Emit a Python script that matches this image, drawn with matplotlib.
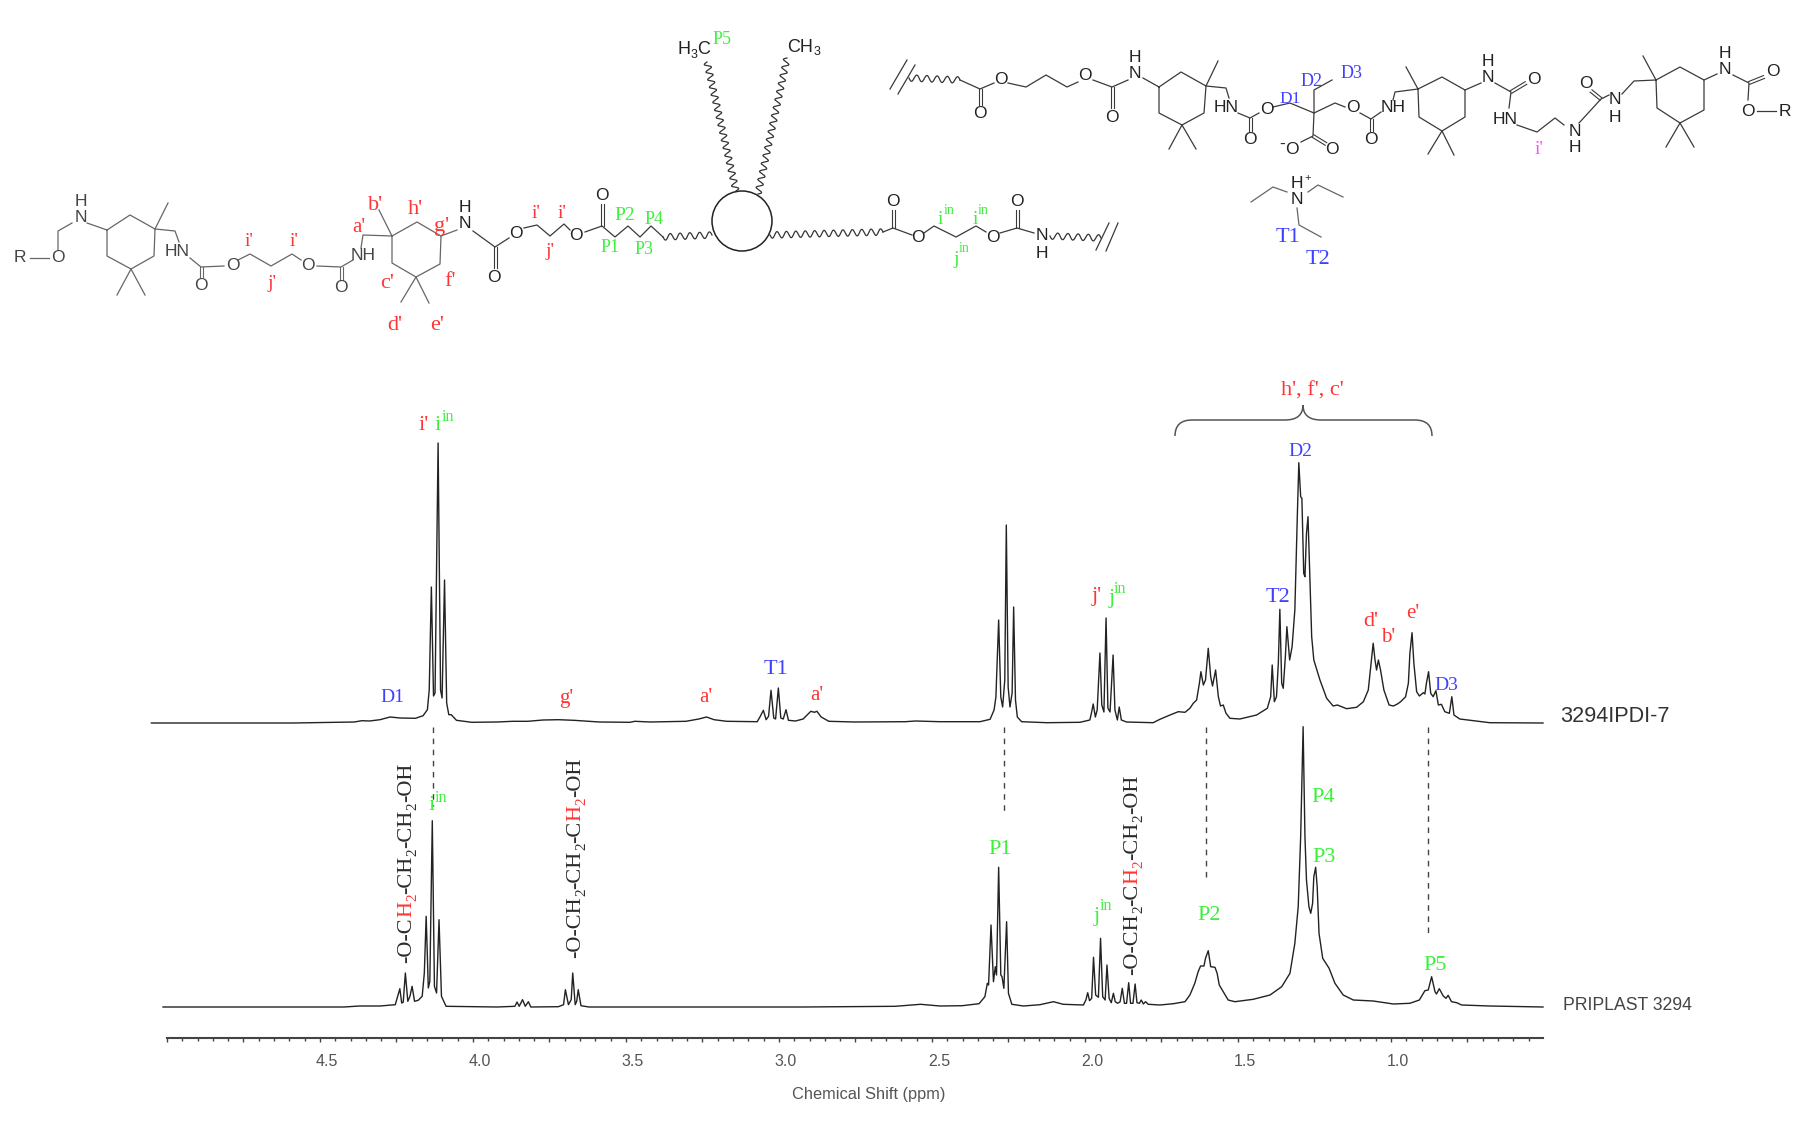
import numpy as np
import matplotlib
matplotlib.use('Agg')
import matplotlib.pyplot as plt
from matplotlib.path import Path
from matplotlib.patches import PathPatch, Circle
from matplotlib.transforms import ScaledTranslation

# 1H NMR traces: chemical shift (ppm) / height above own baseline
upper_ppm = [5.051, 4.588, 4.388, 4.363, 4.338, 4.304, 4.271, 4.238, 4.188, 4.163, 4.149, 4.143, 4.136, 4.129, 4.124, 4.114, 4.106, 4.101, 4.093, 4.086,
             4.079, 4.071, 4.054, 4.004, 3.921, 3.871, 3.821, 3.771, 3.721, 3.671, 3.587, 3.487, 3.471, 3.421, 3.304, 3.262, 3.237, 3.212, 3.171, 3.071,
             3.061, 3.051, 3.042, 3.034, 3.026, 3.017, 3.011, 3.002, 2.994, 2.986, 2.977, 2.969, 2.946, 2.921, 2.896, 2.884, 2.876, 2.862, 2.837, 2.754,
             2.587, 2.554, 2.474, 2.343, 2.310, 2.297, 2.291, 2.282, 2.275, 2.269, 2.262, 2.257, 2.251, 2.245, 2.238, 2.233, 2.227, 2.221, 2.207, 2.125,
             2.016, 1.984, 1.978, 1.973, 1.966, 1.960, 1.951, 1.945, 1.938, 1.931, 1.925, 1.918, 1.908, 1.902, 1.894, 1.888, 1.881, 1.864, 1.777, 1.755,
             1.722, 1.695, 1.673, 1.657, 1.646, 1.635, 1.626, 1.621, 1.613, 1.606, 1.597, 1.589, 1.583, 1.573, 1.564, 1.557, 1.548, 1.539, 1.526, 1.494,
             1.439, 1.404, 1.393, 1.388, 1.381, 1.374, 1.368, 1.363, 1.357, 1.352, 1.345, 1.340, 1.331, 1.323, 1.314, 1.306, 1.301, 1.295, 1.291, 1.285,
             1.281, 1.276, 1.271, 1.265, 1.259, 1.252, 1.232, 1.210, 1.189, 1.175, 1.145, 1.112, 1.090, 1.074, 1.067, 1.058, 1.052, 1.047, 1.041, 1.034,
             1.023, 1.006, 0.992, 0.979, 0.968, 0.952, 0.943, 0.938, 0.931, 0.925, 0.916, 0.907, 0.894, 0.889, 0.884, 0.877, 0.870, 0.862, 0.853, 0.845,
             0.835, 0.824, 0.809, 0.801, 0.794, 0.775, 0.731, 0.677, 0.503]
upper_h = [0, 0, 1, 2.3, 2, 3.3, 6, 5, 4.7, 7.3, 13.3, 33, 136, 27, 30, 280, 33, 25, 143, 20,
           8.3, 8.3, 2.7, 0.7, 1, 1.7, 1.7, 3, 3.3, 2.7, 1, 0.7, 1.7, 1, 1.7, 4, 6, 3.3, 1.7, 1.3,
           6.7, 12.7, 3.3, 6.7, 32.7, 5, 4, 35, 5, 4, 13.3, 2.7, 2, 4, 11.7, 10.7, 11.7, 6, 1.7, 1,
           1.3, 2, 1.3, 1.3, 3.7, 13, 26, 103, 26, 16, 43, 198, 36, 16, 30, 116, 23, 6, 1.3, 0.3,
           0.7, 3, 11, 19, 6, 13, 70, 18, 11, 105, 15, 11, 68, 13, 3, 16, 3, 1, 0.3, 3.7,
           8, 11.3, 10.7, 14.7, 19.7, 23, 39.7, 51.3, 38, 43, 74.7, 46.3, 37, 53, 26.3, 17, 18, 9.7, 4.7, 4,
           8, 14.7, 26.3, 58, 21.3, 26.3, 59.7, 113.7, 39.7, 34.7, 66.3, 96.3, 63, 76.3, 113, 206.3, 260.3, 226.3, 224.7, 149.7,
           146.3, 189.7, 206.3, 146.3, 86.3, 63, 43, 24.7, 17, 18, 14.3, 15.7, 21.3, 33, 53, 79.7, 63, 53, 63, 53,
           33, 18, 17, 19, 21.3, 26.3, 39.7, 69.7, 90.3, 59.7, 31.3, 27, 30.3, 29, 39.7, 51.3, 29.7, 26.3, 32.3, 18,
           18.7, 11.3, 9.7, 26.3, 8, 4, 2.3, 0.3, 0]

lower_ppm = [5.013, 4.421, 4.371, 4.304, 4.254, 4.246, 4.239, 4.233, 4.228, 4.221, 4.213, 4.206, 4.199, 4.191, 4.179, 4.166, 4.159, 4.153, 4.146, 4.141,
             4.133, 4.126, 4.119, 4.111, 4.103, 4.088, 3.921, 3.863, 3.856, 3.849, 3.838, 3.829, 3.819, 3.811, 3.721, 3.704, 3.698, 3.688, 3.679, 3.674,
             3.666, 3.661, 3.656, 3.647, 3.621, 2.921, 2.620, 2.537, 2.474, 2.401, 2.346, 2.327, 2.319, 2.315, 2.307, 2.299, 2.293, 2.289, 2.282, 2.275,
             2.271, 2.265, 2.256, 2.250, 2.239, 2.201, 2.147, 2.103, 2.071, 2.005, 1.997, 1.991, 1.985, 1.978, 1.972, 1.965, 1.956, 1.949, 1.942, 1.934,
             1.928, 1.921, 1.914, 1.907, 1.901, 1.893, 1.885, 1.878, 1.871, 1.864, 1.857, 1.851, 1.843, 1.836, 1.830, 1.822, 1.816, 1.809, 1.802, 1.793,
             1.755, 1.711, 1.673, 1.657, 1.641, 1.630, 1.622, 1.611, 1.606, 1.597, 1.589, 1.575, 1.568, 1.561, 1.548, 1.532, 1.510, 1.450, 1.395, 1.357,
             1.330, 1.314, 1.303, 1.295, 1.287, 1.281, 1.276, 1.268, 1.262, 1.256, 1.252, 1.246, 1.241, 1.235, 1.223, 1.202, 1.183, 1.156, 1.123, 1.058,
             0.992, 0.938, 0.907, 0.889, 0.878, 0.867, 0.856, 0.851, 0.842, 0.829, 0.820, 0.813, 0.802, 0.785, 0.769, 0.677, 0.503]
lower_h = [0, 0, 1, 1, 2.3, 10.7, 18.3, 4, 4.7, 34, 5.7, 10.7, 20.7, 5.7, 6.7, 10.7, 34, 90.7, 19, 25.7,
           186.3, 20.7, 14, 87.3, 10.7, 0.7, 0, 0.7, 5, 0.7, 7.3, 0.7, 5.3, 0, 0.3, 2.3, 17.3, 2.3, 7.3, 34,
           2.3, 5.7, 17.3, 1.3, 0, 0, 0.7, 2.7, 1, 1.3, 3.3, 10.3, 23.7, 22, 82, 25.3, 40.3, 32, 139.7, 32,
           30.3, 18.7, 85.3, 13.7, 2.7, 1, 2.3, 5.3, 2.7, 2, 7, 14.3, 6.3, 8.7, 49.7, 12, 9.7, 68.7, 10.3, 7,
           42, 8.7, 4.3, 13.7, 5.3, 3.7, 5.3, 18.7, 3.7, 3.7, 24.3, 3.7, 3.7, 23, 4.3, 3.7, 7, 3, 5.3, 2.7,
           2, 3.3, 5.3, 12, 23.7, 35.3, 41, 41, 48.7, 56.3, 40.3, 39.7, 33.7, 22, 15.3, 7, 5.3, 7.7, 12, 20.3,
           33.7, 63.7, 100.3, 170.3, 280.3, 170.3, 127, 100.3, 93.7, 103.7, 130.3, 139.7, 120.3, 73.7, 48.7, 38.7, 23.7, 12, 7, 6,
           3, 3.7, 7, 16.3, 17, 30.3, 15.3, 13, 18.3, 11, 8.7, 11.7, 5.3, 4.3, 2, 1, 0]

guide_ppm = [4.131, 2.266, 1.605, 0.880]
guide_stop = [232, 225, 158, 101]  # lower end of each guide, height on the main axis

tick_major = [5.0, 4.75, 4.5, 4.25, 4.0, 3.75, 3.5, 3.25, 3.0, 2.75, 2.5, 2.25, 2.0, 1.75, 1.5, 1.25, 1.0, 0.75]
tick_labels = ['', '', '4.5', '', '4.0', '', '3.5', '', '3.0', '', '2.5', '', '2.0', '', '1.5', '', '1.0', '']

RED = '#ff3535'
GREEN = '#3cf03c'
BLUE = '#4040ff'
PINK = '#ff50ff'
BOND = '#3a3a3a'
PALE = '#666666'
DARK = '#2c2c2c'
SERIF = 'Liberation Serif'
SANS = 'Liberation Sans'

# peak and atom labels: text, x px, y px, colour, size
labels_main = [("i'", 424, 425, RED, 16), ('i', 438, 426, GREEN, 16), ('in', 448, 417, GREEN, 11.5),
               ('D1', 392, 698, BLUE, 14), ("g'", 566, 698, RED, 15), ("a'", 706, 697, RED, 15),
               ('T1', 776, 670, BLUE, 16), ("a'", 817, 696, RED, 15),
               ("h', f', c'", 1312, 391, RED, 16), ('D2', 1300, 451, BLUE, 14),
               ("j'", 1097, 597, RED, 16), ('j', 1112, 598, GREEN, 16), ('in', 1120, 589, GREEN, 11.5),
               ('T2', 1278, 598, BLUE, 16), ("d'", 1371, 621, RED, 16), ("b'", 1388, 637, RED, 15),
               ("e'", 1413, 613, RED, 15), ('D3', 1446, 686, BLUE, 14),
               ('i', 432, 806, GREEN, 16), ('in', 441, 798, GREEN, 11.5), ('P1', 1000, 849, GREEN, 16),
               ('j', 1097, 916, GREEN, 16), ('in', 1106, 906, GREEN, 11.5), ('P2', 1209, 915, GREEN, 16),
               ('P4', 1323, 798, GREEN, 16), ('P3', 1324, 857, GREEN, 16), ('P5', 1435, 966, GREEN, 16)]
labels_struct = [("i'", 249, 241, RED, 14), ("i'", 294, 241, RED, 14), ("j'", 272, 283, RED, 14),
                 ("b'", 376, 206, RED, 16), ("h'", 415, 209, RED, 16), ("a'", 359, 227, RED, 15),
                 ("g'", 442, 226, RED, 16), ("c'", 387, 284, RED, 16), ("f'", 450, 281, RED, 16),
                 ("d'", 395, 325, RED, 16), ("e'", 437, 325, RED, 16), ("i'", 536, 214, RED, 14),
                 ("i'", 562, 214, RED, 14), ("j'", 550, 252, RED, 14),
                 ('P2', 625, 216, GREEN, 14), ('P4', 654, 219, GREEN, 13), ('P1', 610, 248, GREEN, 13),
                 ('P3', 644, 249, GREEN, 13), ('P5', 722, 40, GREEN, 13),
                 ('i', 940, 219, GREEN, 14), ('in', 949, 211, GREEN, 10), ('i', 975, 219, GREEN, 14),
                 ('in', 983, 210, GREEN, 10), ('j', 956, 260, GREEN, 14), ('in', 964, 249, GREEN, 10),
                 ('D1', 1290, 99, BLUE, 12.5), ('D2', 1312, 81, BLUE, 13), ('D3', 1352, 74, BLUE, 13),
                 ("i'", 1539, 150, PINK, 14), ('T1', 1288, 238, BLUE, 16), ('T2', 1318, 260, BLUE, 16)]

# atoms of the drawn structures
atoms_pale = [('R', 20, 258), ('O', 58, 258), ('N', 81, 217), ('H', 81, 201), ('HN', 177, 251), ('O', 201, 286),
              ('O', 233, 266), ('O', 308, 266), ('O', 341, 288), ('NH', 363, 256)]
atoms_dark = [('N', 465, 224), ('H', 465, 207), ('O', 494, 278), ('O', 516, 233), ('O', 576, 236), ('O', 602, 195),
              ('O', 893, 202), ('O', 918, 237), ('O', 993, 237), ('O', 1017, 202), ('N', 1042, 236), ('H', 1042, 253),
              ('O', 980, 114), ('O', 1001, 79), ('O', 1085, 75), ('O', 1112, 117), ('N', 1135, 73), ('H', 1135, 57),
              ('HN', 1226, 107), ('O', 1250, 139), ('O', 1267, 110), ('O', 1353, 108), ('O', 1371, 139), ('NH', 1393, 108),
              ('O', 1292, 149), ('-', 1282, 144), ('O', 1332, 150), ('N', 1488, 78), ('H', 1488, 62), ('O', 1534, 79),
              ('HN', 1505, 119), ('N', 1575, 131), ('H', 1575, 147), ('O', 1586, 83), ('N', 1615, 99), ('H', 1615, 117),
              ('N', 1725, 69), ('H', 1725, 53), ('O', 1773, 71), ('O', 1748, 111), ('R', 1785, 111),
              ('H', 1297, 183), ('N', 1297, 199)]

bonds_pale = [[(30, 258), (49, 258)], [(58, 250), (58, 231), (72, 223)], [(87, 223), (107, 230)],
              [(107, 230), (130, 215), (155, 229), (154, 256), (131, 269), (107, 256), (107, 230)],
              [(155, 229), (168, 203)], [(131, 269), (117, 295)], [(131, 269), (145, 295)],
              [(155, 229), (175, 231), (179, 242)], [(190, 258), (201, 267), (224, 266)],
              [(238, 260), (250, 254), (271, 266), (292, 254), (301, 260)], [(317, 266), (341, 267), (353, 260)],
              [(361, 248), (363, 235), (392, 236)],
              [(392, 236), (417, 222), (441, 236), (440, 264), (416, 277), (392, 263), (392, 236)],
              [(392, 236), (379, 210)], [(416, 277), (401, 302)], [(416, 277), (429, 303)], [(441, 236), (457, 230)],
              [(1287, 192), (1273, 187), (1251, 202)], [(1308, 192), (1318, 185), (1343, 197)],
              [(1297, 208), (1299, 225), (1321, 237)]]
bonds_dark = [[(473, 231), (495, 247), (509, 238)], [(524, 228), (537, 225), (550, 236), (564, 224), (570, 230)],
              [(585, 232), (602, 226), (615, 237), (628, 226), (640, 237), (651, 226), (663, 237)],
              [(883, 232), (893, 228), (912, 235)], [(924, 233), (934, 226), (956, 237), (976, 226), (986, 232)],
              [(1000, 233), (1017, 228), (1034, 233)], [(1096, 250), (1109, 223)], [(1106, 251), (1118, 223)],
              [(890, 89), (907, 60)], [(898, 94), (915, 65)], [(960, 80), (980, 89), (994, 83)],
              [(1008, 83), (1026, 87), (1046, 75), (1067, 87), (1078, 82)], [(1093, 80), (1112, 87), (1128, 80)],
              [(1143, 78), (1159, 87)],
              [(1159, 87), (1181, 72), (1206, 86), (1204, 113), (1182, 125), (1159, 113), (1159, 87)],
              [(1206, 86), (1218, 61)], [(1182, 125), (1169, 149)], [(1182, 125), (1196, 149)],
              [(1206, 86), (1226, 88), (1229, 98)], [(1238, 113), (1250, 118), (1259, 113)],
              [(1273, 107), (1290, 103), (1314, 113), (1335, 103), (1345, 107)], [(1360, 113), (1371, 119), (1381, 112)],
              [(1393, 100), (1395, 92), (1418, 89)], [(1314, 113), (1314, 90), (1332, 80)], [(1314, 113), (1313, 136), (1301, 142)],
              [(1418, 89), (1442, 77), (1465, 90), (1465, 117), (1442, 131), (1419, 117), (1418, 89)],
              [(1418, 89), (1406, 67)], [(1442, 131), (1428, 154)], [(1442, 131), (1454, 155)],
              [(1465, 90), (1481, 83)], [(1495, 83), (1511, 92), (1509, 108)], [(1517, 125), (1537, 132), (1555, 118), (1564, 125)],
              [(1579, 123), (1601, 99), (1609, 95)], [(1622, 94), (1634, 81), (1656, 80)],
              [(1656, 80), (1680, 67), (1704, 80), (1704, 110), (1680, 123), (1657, 108), (1656, 80)],
              [(1656, 80), (1643, 56)], [(1680, 123), (1666, 147)], [(1680, 123), (1694, 147)],
              [(1704, 80), (1717, 74)], [(1733, 75), (1749, 83), (1748, 100)], [(1757, 111), (1776, 111)]]
double_bonds = [((201, 267), (201, 277), PALE), ((341, 267), (341, 280), PALE), ((495, 247), (495, 268), BOND),
                ((602, 226), (602, 204), BOND), ((893, 228), (893, 210), BOND), ((1017, 228), (1017, 210), BOND),
                ((980, 89), (980, 105), BOND), ((1112, 87), (1112, 108), BOND), ((1250, 118), (1250, 131), BOND),
                ((1371, 119), (1371, 131), BOND), ((1313, 136), (1326, 144), BOND), ((1511, 92), (1526, 83), BOND),
                ((1601, 99), (1591, 91), BOND), ((1749, 83), (1764, 77), BOND)]
wavy_bonds = [((663, 237), (712, 235), 5), ((736, 191), (707, 62), 17), ((758, 194), (787, 58), 17),
              ((770, 235), (883, 232), 12), ((1050, 236), (1101, 238), 5), ((909, 78), (960, 80), 5)]

# rotated formulas, each part is (text, colour, subscript)
formula_a = [('-O-C', DARK, False), ('H', RED, False), ('2', RED, True), ('-CH', DARK, False), ('2', DARK, True),
             ('-CH', DARK, False), ('2', DARK, True), ('-OH', DARK, False)]
formula_b = [('-O-CH', DARK, False), ('2', DARK, True), ('-CH', DARK, False), ('2', DARK, True),
             ('-C', DARK, False), ('H', RED, False), ('2', RED, True), ('-OH', DARK, False)]
formula_c = [('-O-CH', DARK, False), ('2', DARK, True), ('-C', DARK, False), ('H', RED, False), ('2', RED, True),
             ('-CH', DARK, False), ('2', DARK, True), ('-OH', DARK, False)]


def wavy(a, b, n):
    # squiggle standing for a long alkyl chain
    a = np.array(a, float)
    b = np.array(b, float)
    t = np.linspace(0, 1, n * 24 + 1)
    d = b - a
    normal = np.array([-d[1], d[0]]) / np.hypot(d[0], d[1])
    pts = a + np.outer(t, d) + np.outer(3.2 * np.sin(2 * np.pi * n * t), normal)
    return pts[:, 0], pts[:, 1]


def draw_formula(over, renderer, x, y, parts):
    for text, color, sub in parts:
        t = over.text(x + (6 if sub else 0), y, text, color=color, rotation=90, ha='center', va='bottom',
                      family=SERIF, fontsize=11 if sub else 16)
        y -= t.get_window_extent(renderer).height


fig = plt.figure(figsize=(18.16, 11.23), dpi=100)

# main axis, 1 height unit is 1 px
ax = fig.add_axes([167 / 1816, (1123 - 1038) / 1123, 1376 / 1816, 738 / 1123])
ax.set_xlim(5.0, 0.503)
ax.set_ylim(0, 738)
ax.patch.set_alpha(0)
for s in ['top', 'left', 'right']:
    ax.spines[s].set_visible(False)
ax.spines['bottom'].set_color('#444444')
ax.spines['bottom'].set_linewidth(1.5)
ax.set_yticks([])
ax.set_xticks(tick_major)
ax.set_xticklabels(tick_labels)
ax.set_xticks(np.arange(0.55, 5.0, 0.05), minor=True)
ax.tick_params(axis='x', which='major', direction='out', length=3.2, width=1, color='#444444',
               pad=8, labelsize=11.5, labelcolor='#555555')
ax.tick_params(axis='x', which='minor', direction='out', length=1.8, width=1, color='#444444')
for lab in ax.get_xticklabels():
    lab.set_family(SANS)
    lab.set_transform(lab.get_transform() + ScaledTranslation(7 / 100, 0, fig.dpi_scale_trans))
ax.set_xlabel('Chemical Shift (ppm)', family=SANS, fontsize=11.8, color='#555555', x=0.51, labelpad=13)

ax.plot(upper_ppm, np.array(upper_h) + 315, color='#222222', lw=1.0, clip_on=False)
ax.plot(lower_ppm, np.array(lower_h) + 31, color='#222222', lw=1.0, clip_on=False)
for p, stop in zip(guide_ppm, guide_stop):
    ax.plot([p, p], [311, stop], color='#444444', lw=1, ls=(0, (4, 4)))

# overlay in picture pixels for the structures and annotations
over = fig.add_axes([0, 0, 1, 1])
over.set_xlim(0, 1816)
over.set_ylim(1123, 0)
over.axis('off')
renderer = fig.canvas.get_renderer()

for line in bonds_pale:
    xs, ys = zip(*line)
    over.plot(xs, ys, color=PALE, lw=0.9)
for line in bonds_dark:
    xs, ys = zip(*line)
    over.plot(xs, ys, color=BOND, lw=0.9)
for a, b, color in double_bonds:
    d = np.array(b, float) - np.array(a, float)
    n = np.array([-d[1], d[0]]) / np.hypot(d[0], d[1]) * 1.5
    for sign in [-1, 1]:
        over.plot([a[0] + sign * n[0], b[0] + sign * n[0]], [a[1] + sign * n[1], b[1] + sign * n[1]], color=color, lw=0.8)
for a, b, n in wavy_bonds:
    xs, ys = wavy(a, b, n)
    over.plot(xs, ys, color='#333333', lw=0.9)
over.add_patch(Circle((742, 221), 30, fill=False, edgecolor='#222222', lw=1.1))

for text, x, y in atoms_pale:
    over.text(x, y, text, ha='center', va='center', family=SANS, fontsize=12.5, color='#444444')
for text, x, y in atoms_dark:
    over.text(x, y, text, ha='center', va='center', family=SANS, fontsize=12.5, color='#222222')
over.text(1308, 178, '+', ha='center', va='center', family=SANS, fontsize=8, color='#222222')

# H3C and CH3 ends of the long arms
over.text(684, 50, 'H', ha='center', va='center', family=SANS, fontsize=13, color='#222222')
over.text(694, 55, '3', ha='center', va='center', family=SANS, fontsize=9, color='#222222')
over.text(704, 50, 'C', ha='center', va='center', family=SANS, fontsize=13, color='#222222')
over.text(800, 47, 'CH', ha='center', va='center', family=SANS, fontsize=13, color='#222222')
over.text(817, 52, '3', ha='center', va='center', family=SANS, fontsize=9, color='#222222')

for text, x, y, color, size in labels_main + labels_struct:
    over.text(x, y, text, ha='center', va='center', family=SERIF, fontsize=size, color=color)

draw_formula(over, renderer, 407, 963, formula_a)
draw_formula(over, renderer, 576, 958, formula_b)
draw_formula(over, renderer, 1133, 975, formula_c)

# bracket over h', f', c'
brace = Path([(1175, 436), (1175, 420), (1192, 420), (1285, 420), (1303, 420), (1303, 405),
              (1303, 420), (1321, 420), (1415, 420), (1432, 420), (1432, 436)],
             [Path.MOVETO, Path.CURVE3, Path.CURVE3, Path.LINETO, Path.CURVE3, Path.CURVE3,
              Path.CURVE3, Path.CURVE3, Path.LINETO, Path.CURVE3, Path.CURVE3])
over.add_patch(PathPatch(brace, fill=False, edgecolor='#555555', lw=1.1))

over.text(1560, 716, '3294IPDI-7', ha='left', va='center', family=SANS, fontsize=15.6, color='#333333')
over.text(1563, 1005, 'PRIPLAST 3294', ha='left', va='center', family=SANS, fontsize=12.7, color='#444444')

fig.savefig('out.png', dpi=100, facecolor='white')
